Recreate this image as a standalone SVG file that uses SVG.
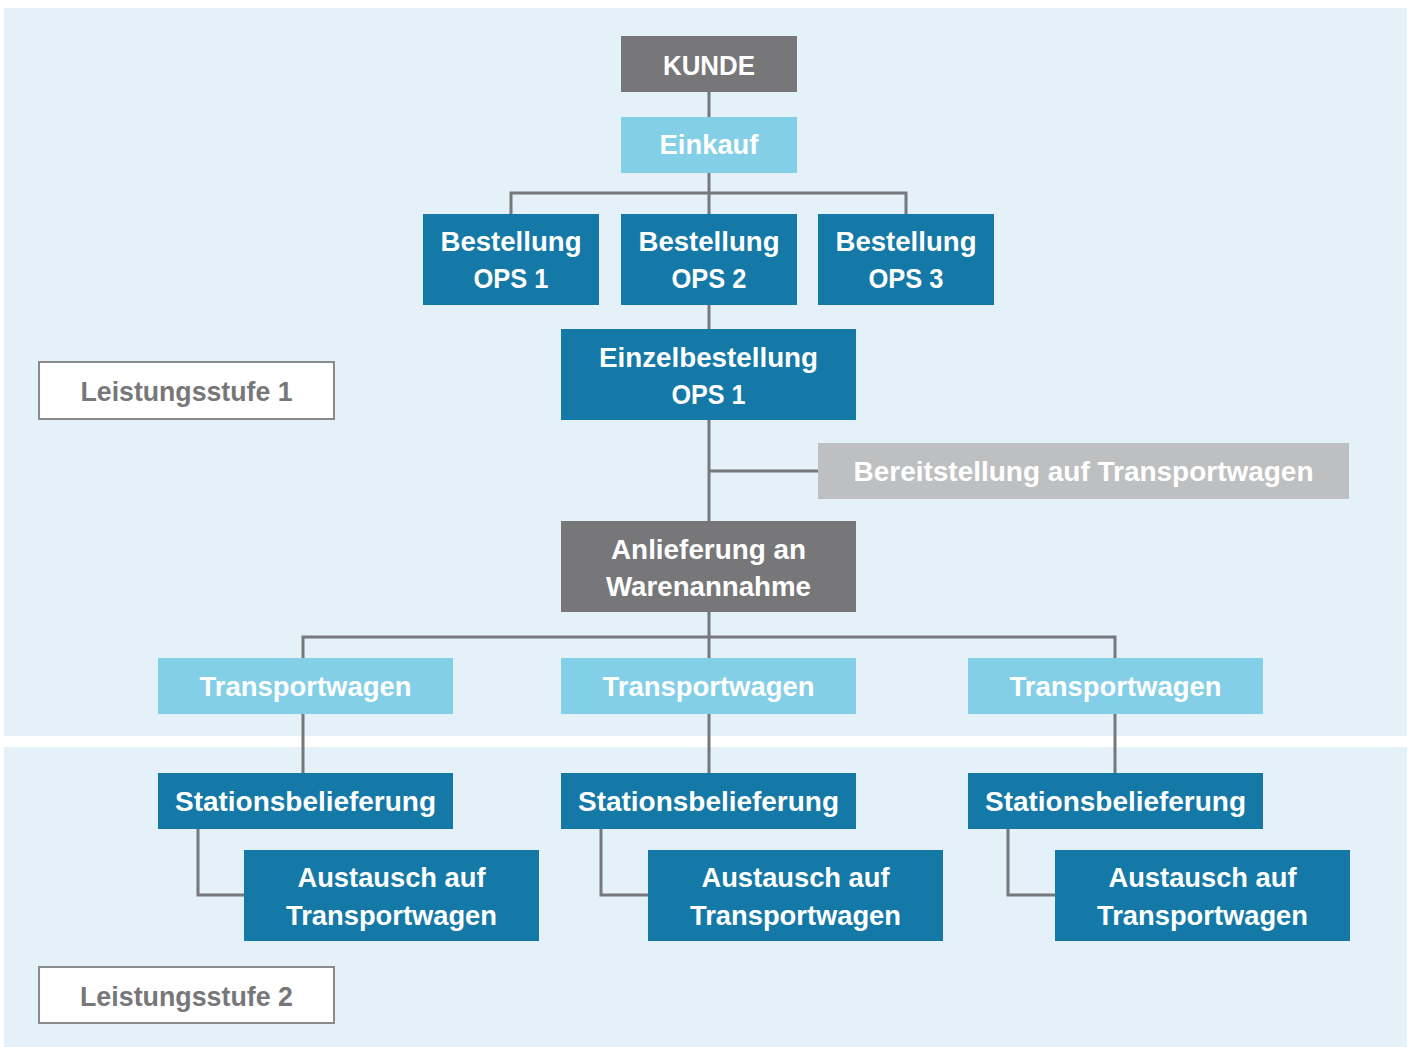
<svg xmlns="http://www.w3.org/2000/svg" width="1414" height="1047" viewBox="0 0 1414 1047">
<style>
.bg{fill:#e4f1f8}
.dark{fill:#1479a6}
.light{fill:#84cfe8}
.gray{fill:#77777a}
.lgray{fill:#bebfc1}
.lvl{fill:#ffffff;stroke:#8a8a8d;stroke-width:2}
text{font-family:"Liberation Sans",Arial,sans-serif;font-weight:bold;font-size:28px;text-anchor:middle;fill:#ffffff}
.lvt{fill:#77777a}
.con{fill:none;stroke:#77787b;stroke-width:3}
</style>
<rect width="1414" height="1047" fill="#ffffff"/>
<rect class="bg" x="4" y="8" width="1403" height="728"/>
<rect class="bg" x="4" y="747" width="1403" height="300"/>
<g id="connectors">
<path class="con" d="M709 92V117M709 173V214M511 214V193H906V214M709 305V329M709 420V521M709 471H818M709 612V658M303 658V637H1115V658M303 714V773M709 714V773M1115 714V773M198 829V895H244M601 829V895H648M1008 829V895H1055"/>
</g>
<g id="kunde"><rect class="gray" x="621" y="36" width="176" height="56"/><text x="709" y="75" textLength="92" lengthAdjust="spacingAndGlyphs">KUNDE</text></g>
<g id="einkauf"><rect class="light" x="621" y="117" width="176" height="56"/><text x="709" y="154" textLength="99" lengthAdjust="spacingAndGlyphs">Einkauf</text></g>
<g id="bestellung1"><rect class="dark" x="423" y="214" width="176" height="91"/><text x="511" y="251" textLength="141" lengthAdjust="spacingAndGlyphs">Bestellung</text><text x="511" y="288" textLength="75" lengthAdjust="spacingAndGlyphs">OPS 1</text></g>
<g id="bestellung2"><rect class="dark" x="621" y="214" width="176" height="91"/><text x="709" y="251" textLength="141" lengthAdjust="spacingAndGlyphs">Bestellung</text><text x="709" y="288" textLength="75" lengthAdjust="spacingAndGlyphs">OPS 2</text></g>
<g id="bestellung3"><rect class="dark" x="818" y="214" width="176" height="91"/><text x="906" y="251" textLength="141" lengthAdjust="spacingAndGlyphs">Bestellung</text><text x="906" y="288" textLength="75" lengthAdjust="spacingAndGlyphs">OPS 3</text></g>
<g id="einzelbestellung"><rect class="dark" x="561" y="329" width="295" height="91"/><text x="708.5" y="367" textLength="219" lengthAdjust="spacingAndGlyphs">Einzelbestellung</text><text x="708.5" y="404" textLength="74" lengthAdjust="spacingAndGlyphs">OPS 1</text></g>
<g id="leistungsstufe1"><rect class="lvl" x="39" y="362" width="295" height="57"/><text class="lvt" x="186.5" y="401" textLength="212" lengthAdjust="spacingAndGlyphs">Leistungsstufe 1</text></g>
<g id="bereitstellung"><rect class="lgray" x="818" y="443" width="531" height="56"/><text x="1083.5" y="481" textLength="460" lengthAdjust="spacingAndGlyphs">Bereitstellung auf Transportwagen</text></g>
<g id="anlieferung"><rect class="gray" x="561" y="521" width="295" height="91"/><text x="708.5" y="559" textLength="195" lengthAdjust="spacingAndGlyphs">Anlieferung an</text><text x="708.5" y="596" textLength="205" lengthAdjust="spacingAndGlyphs">Warenannahme</text></g>
<g id="transportwagen1"><rect class="light" x="158" y="658" width="295" height="56"/><text x="305.5" y="696" textLength="212" lengthAdjust="spacingAndGlyphs">Transportwagen</text></g>
<g id="transportwagen2"><rect class="light" x="561" y="658" width="295" height="56"/><text x="708.5" y="696" textLength="212" lengthAdjust="spacingAndGlyphs">Transportwagen</text></g>
<g id="transportwagen3"><rect class="light" x="968" y="658" width="295" height="56"/><text x="1115.5" y="696" textLength="212" lengthAdjust="spacingAndGlyphs">Transportwagen</text></g>
<g id="station1"><rect class="dark" x="158" y="773" width="295" height="56"/><text x="305.5" y="811" textLength="261" lengthAdjust="spacingAndGlyphs">Stationsbelieferung</text></g>
<g id="station2"><rect class="dark" x="561" y="773" width="295" height="56"/><text x="708.5" y="811" textLength="261" lengthAdjust="spacingAndGlyphs">Stationsbelieferung</text></g>
<g id="station3"><rect class="dark" x="968" y="773" width="295" height="56"/><text x="1115.5" y="811" textLength="261" lengthAdjust="spacingAndGlyphs">Stationsbelieferung</text></g>
<g id="austausch1"><rect class="dark" x="244" y="850" width="295" height="91"/><text x="391.5" y="887" textLength="188" lengthAdjust="spacingAndGlyphs">Austausch auf</text><text x="391.5" y="925" textLength="211" lengthAdjust="spacingAndGlyphs">Transportwagen</text></g>
<g id="austausch2"><rect class="dark" x="648" y="850" width="295" height="91"/><text x="795.5" y="887" textLength="188" lengthAdjust="spacingAndGlyphs">Austausch auf</text><text x="795.5" y="925" textLength="211" lengthAdjust="spacingAndGlyphs">Transportwagen</text></g>
<g id="austausch3"><rect class="dark" x="1055" y="850" width="295" height="91"/><text x="1202.5" y="887" textLength="188" lengthAdjust="spacingAndGlyphs">Austausch auf</text><text x="1202.5" y="925" textLength="211" lengthAdjust="spacingAndGlyphs">Transportwagen</text></g>
<g id="leistungsstufe2"><rect class="lvl" x="39" y="967" width="295" height="56"/><text class="lvt" x="186.5" y="1006" textLength="213" lengthAdjust="spacingAndGlyphs">Leistungsstufe 2</text></g>
</svg>
